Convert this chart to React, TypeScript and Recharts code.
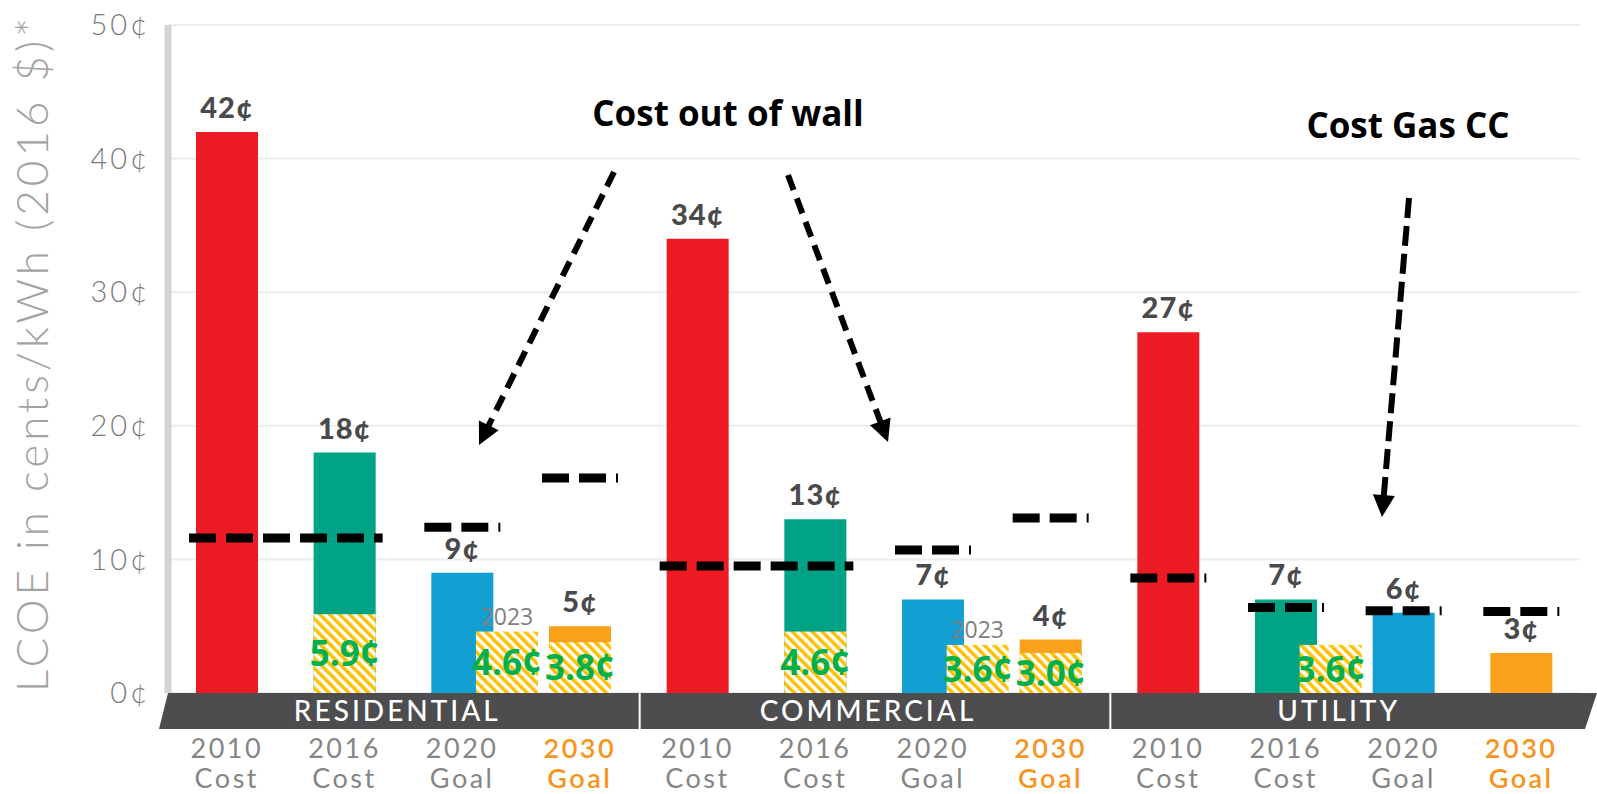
import { BarChart, Bar, XAxis, YAxis, CartesianGrid, Cell, LabelList } from 'recharts';

// categories
const GROUPS = ['RESIDENTIAL', 'COMMERCIAL', 'UTILITY'];
const YEARS = ['2010', '2016', '2020', '2030'];
const KINDS = ['Cost', 'Cost', 'Goal', 'Goal'];

// LCOE in cents/kWh, one value per group x year
const LCOE = [42, 18, 9, 5, 34, 13, 7, 4, 27, 7, 6, 3];
// hatched "actual / target" boxes
const TARGET = [null, 5.9, 4.6, 3.8, null, 4.6, 3.6, 3.0, null, 3.6, null, null];
const TARGET_YEAR = ['', '', '2023', '', '', '', '2023', '', '', '', '', ''];
// dashed black marks: cost out of wall / gas CC
const WALL_COST = [11.6, 11.6, 12.4, 16.1, 9.5, 9.5, 10.7, 13.1, 8.6, 6.4, 6.15, 6.1];
const Y_TICKS = [0, 10, 20, 30, 40, 50];

const YEAR_COLORS = ['#ed1c24', '#00a386', '#139fd1', '#f9a11b'];

const W = 1597;
const H = 794;
const LEFT = 168;
const RIGHT_M = 17;
const BAND = (W - LEFT - RIGHT_M) / 12;

// boxes drawn beside their bar rather than over it
const SIDE_BOX = new Set(['RESIDENTIAL 2020', 'COMMERCIAL 2020', 'UTILITY 2016']);

const data = GROUPS.flatMap((g, gi) =>
  YEARS.map((yr, yi) => {
    const i = gi * 4 + yi;
    return {
      key: `${g} ${yr}`,
      group: g,
      year: yr,
      kind: KINDS[yi],
      lcoe: LCOE[i],
      target: TARGET[i],
      targetYear: TARGET_YEAR[i],
      wall: WALL_COST[i],
    };
  })
);

function CategoryTick(props: any) {
  const { x, y, index } = props;
  const d = data[index];
  const yi = index % 4;
  const bh = 36;
  const orange = d.year === '2030';
  const col = orange ? '#f7941d' : '#858585';
  let band = null;
  if (yi === 0) {
    // whole group strip is drawn once, from the first category of the group
    const left = x - BAND / 2;
    const right = left + BAND * 4;
    const gi = index / 4;
    const pts =
      gi === 0
        ? `${left},${y} ${right},${y} ${right},${y + bh} ${left - 9},${y + bh}`
        : gi === 2
        ? `${left + 2},${y} ${W},${y} ${W - 12},${y + bh} ${left + 2},${y + bh}`
        : `${left + 2},${y} ${right},${y} ${right},${y + bh} ${left + 2},${y + bh}`;
    band = (
      <g>
        <polygon points={pts} fill="#4d4d4f" />
        <text x={left + BAND * 2 - 6} y={y + 28} textAnchor="middle" fill="#fff" fontSize={28} fontWeight={500}
          fontFamily="Lato, sans-serif" letterSpacing={3}>{d.group}</text>
      </g>
    );
  }
  return (
    <g>
      {band}
      <text x={x} y={y + 65} textAnchor="middle" fill={col} fontSize={27} fontFamily="Lato, sans-serif"
        fontWeight={orange ? 600 : 400} letterSpacing={2.5}>{d.year}</text>
      <text x={x} y={y + 95} textAnchor="middle" fill={col} fontSize={27} fontFamily="Lato, sans-serif"
        fontWeight={orange ? 600 : 400} letterSpacing={2.5}>{d.kind}</text>
    </g>
  );
}

function TargetShape(props: any) {
  const { x, y, width, height, payload } = props;
  if (payload == null || payload.target == null) return null;
  const bx = SIDE_BOX.has(payload.key) ? x + width * 0.72 : x;
  return (
    <g>
      <rect x={bx} y={y} width={width} height={height} fill="url(#hatch)" />
      {payload.targetYear && (
        <text x={bx + width / 2} y={y - 7} textAnchor="middle" fontSize={23} fill="#7f7f7f"
          fontFamily="'Open Sans', sans-serif">{payload.targetYear}</text>
      )}
      <text x={bx + width / 2} y={y + height / 2} dy="0.36em" textAnchor="middle" fontSize={35}
        fontWeight={700} fill="#00b050" fontFamily="'Open Sans', sans-serif">{payload.target.toFixed(1)}¢</text>
    </g>
  );
}

function WallShape(props: any) {
  const { x, y, width, index } = props;
  const v = WALL_COST[index];
  if (index % 4 > 0 && WALL_COST[index - 1] === v) return null;
  const joined = index % 4 < 3 && WALL_COST[index + 1] === v;
  const x2 = joined ? x + width + BAND : x + width;
  return <line x1={x} x2={x2} y1={y} y2={y} stroke="#000" strokeWidth={9} strokeDasharray="27 10" />;
}

function Arrow({ x1, y1, x2, y2, dash }: { x1: number; y1: number; x2: number; y2: number; dash: string }) {
  const dx = x2 - x1;
  const dy = y2 - y1;
  const len = Math.hypot(dx, dy);
  const ux = dx / len;
  const uy = dy / len;
  const hl = 22;
  const hw = 11;
  const bx = x2 - ux * hl;
  const by = y2 - uy * hl;
  return (
    <g>
      <line x1={x1} y1={y1} x2={bx + ux * 2} y2={by + uy * 2} stroke="#000" strokeWidth={6} strokeDasharray={dash} />
      <polygon points={`${x2},${y2} ${bx - uy * hw},${by + ux * hw} ${bx + uy * hw},${by - ux * hw}`} fill="#000" />
    </g>
  );
}

export default function App() {
  return (
    <div style={{ position: 'absolute', left: 0, top: 0, width: W, height: H, background: '#fff' }}>
      <svg width={0} height={0} style={{ position: 'absolute' }}>
        <defs>
          <pattern id="hatch" width="7" height="7" patternUnits="userSpaceOnUse" patternTransform="rotate(-45)">
            <rect width="7" height="7" fill="#fff" />
            <rect width="3.5" height="7" fill="#ffc000" />
          </pattern>
        </defs>
      </svg>
      <BarChart width={W} height={H} data={data} margin={{ top: 25, right: RIGHT_M, bottom: 0, left: 0 }}>
        <CartesianGrid xAxisId="main" vertical={false} stroke="#ececec" strokeWidth={2} />
        <XAxis xAxisId="main" dataKey="key" interval={0} tick={<CategoryTick />} tickLine={false}
          axisLine={false} tickSize={0} tickMargin={0} height={101} />
        <XAxis xAxisId="target" dataKey="key" hide />
        <XAxis xAxisId="wall" dataKey="key" hide />
        <YAxis domain={[0, 50]} ticks={Y_TICKS} width={LEFT} tickSize={0} tickMargin={18} tickLine={false}
          axisLine={{ stroke: '#d4d4d6', strokeWidth: 7 }}
          tickFormatter={(v) => `${v}¢`}
          tick={{ fill: '#7a7a7a', fontSize: 29, fontWeight: 300, fontFamily: 'Lato, sans-serif', letterSpacing: 3 }}
          label={{
            content: (p: any) => {
              const vb = p.viewBox;
              const cy = vb.y + vb.height / 2 - 6;
              return (
                <text x={32} y={cy} transform={`rotate(-90, 32, ${cy})`} textAnchor="middle" dy="0.36em"
                  fill="#a3a3a3" fontSize={44} fontWeight={300} fontFamily="Lato, sans-serif" letterSpacing={4}>
                  LCOE in cents/kWh (2016 $)*
                </text>
              );
            },
          }}
        />
        <Bar xAxisId="main" dataKey="lcoe" barSize={62} isAnimationActive={false}>
          {data.map((d, i) => (
            <Cell key={d.key} fill={YEAR_COLORS[i % 4]} />
          ))}
          <LabelList dataKey="lcoe" position="top" offset={14} formatter={(v: any) => `${v}¢`}
            fill="#4a4a4c" fontSize={29} fontWeight={900} fontFamily="Lato, sans-serif" letterSpacing={1} />
        </Bar>
        <Bar xAxisId="target" dataKey="target" barSize={62} shape={<TargetShape />} isAnimationActive={false} />
        <Bar xAxisId="wall" dataKey="wall" barSize={76} shape={<WallShape />} fill="none" isAnimationActive={false} />
      </BarChart>
      <svg width={W} height={H} style={{ position: 'absolute', left: 0, top: 0, pointerEvents: 'none' }}>
        <text x={728} y={126} textAnchor="middle" fontSize={35} fontWeight={700} fill="#000"
          fontFamily="'Open Sans', sans-serif">Cost out of wall</text>
        <text x={1408} y={138} textAnchor="middle" fontSize={35} fontWeight={700} fill="#000"
          fontFamily="'Open Sans', sans-serif">Cost Gas CC</text>
        <Arrow x1={614} y1={172} x2={479} y2={445} dash="16 9" />
        <Arrow x1={788} y1={175} x2={888} y2={442} dash="16 9" />
        <Arrow x1={1409} y1={198} x2={1382} y2={517} dash="20 8" />
      </svg>
    </div>
  );
}
